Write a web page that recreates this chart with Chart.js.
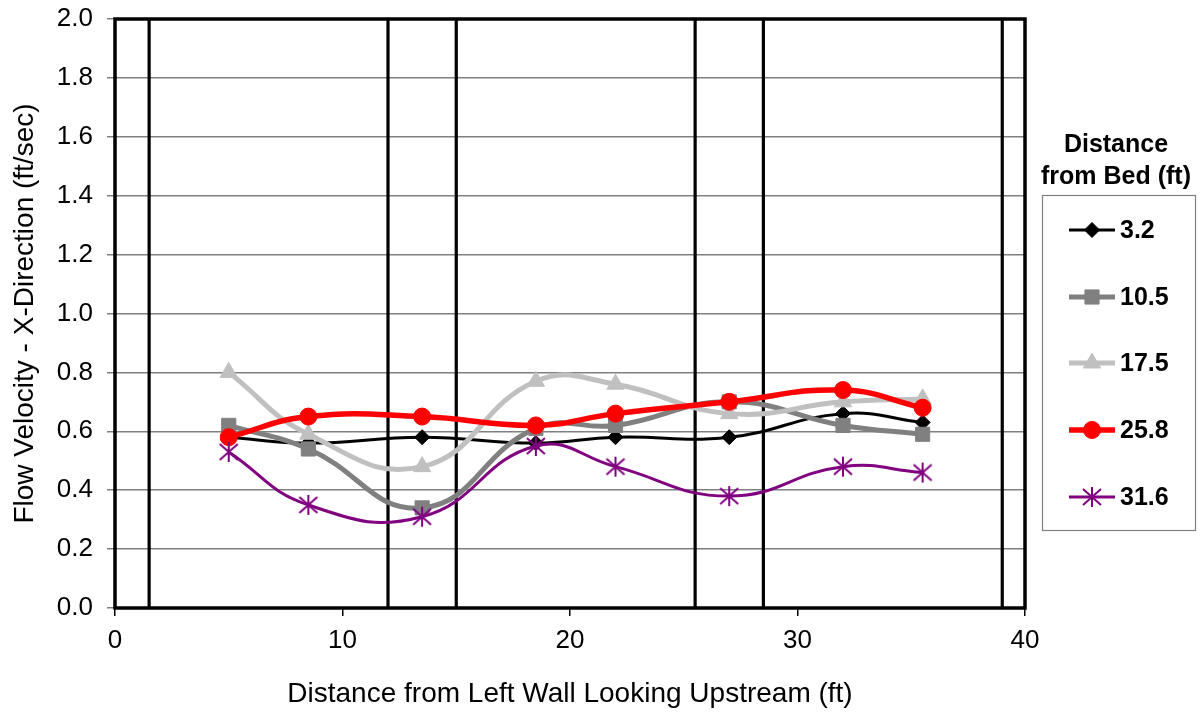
<!DOCTYPE html>
<html>
<head>
<meta charset="utf-8">
<script src="https://cdn.jsdelivr.net/npm/chart.js@4.4.0/dist/chart.umd.min.js"></script>
<style>
  html, body { margin: 0; padding: 0; background: #fff; }
  #wrap { width: 1202px; height: 717px; position: relative; }
</style>
</head>
<body>
<div id="wrap"><canvas id="c" width="1202" height="717"></canvas></div>
<script>
// ---- data ----
const xPositions = [5, 8.5, 13.5, 18.5, 22, 27, 32, 35.5];
const series32  = [0.58, 0.56, 0.58, 0.56, 0.58, 0.58, 0.66, 0.63];
const series105 = [0.62, 0.54, 0.34, 0.61, 0.62, 0.70, 0.62, 0.59];
const series175 = [0.80, 0.59, 0.48, 0.77, 0.76, 0.66, 0.70, 0.71];
const series258 = [0.58, 0.65, 0.65, 0.62, 0.66, 0.70, 0.74, 0.68];
const series316 = [0.53, 0.35, 0.31, 0.55, 0.48, 0.38, 0.48, 0.46];
const seriesNames = ['3.2', '10.5', '17.5', '25.8', '31.6'];
const wallX = [1.5, 12, 15, 25.5, 28.5, 39];
const wallY = [0, 2];
const xTitle = 'Distance from Left Wall Looking Upstream (ft)';
const yTitle = 'Flow Velocity - X-Direction (ft/sec)';
const legendTitle = ['Distance', 'from Bed (ft)'];

// ---- star marker (Excel-like asterisk) ----
function makeStar(color) {
  const c = document.createElement('canvas');
  c.width = 22; c.height = 22;
  const g = c.getContext('2d');
  g.strokeStyle = color; g.lineWidth = 2; g.lineCap = 'butt';
  g.beginPath();
  g.moveTo(11, 1); g.lineTo(11, 21);
  g.moveTo(2, 3); g.lineTo(20, 19);
  g.moveTo(2, 19); g.lineTo(20, 3);
  g.stroke();
  return c;
}
const starImg = makeStar('#800080');

const styles = [
  { color: '#000000', width: 3,   point: 'rectRot', radius: 7.5 },
  { color: '#808080', width: 5,   point: 'rect',    radius: 10 },
  { color: '#C0C0C0', width: 5,   point: 'triangle',radius: 10 },
  { color: '#FF0000', width: 5.5, point: 'circle',  radius: 8.5 },
  { color: '#800080', width: 3,   point: starImg,   radius: 10 }
];
const seriesValues = [series32, series105, series175, series258, series316];

const datasets = seriesValues.map((vals, i) => ({
  label: seriesNames[i],
  data: xPositions.map((x, j) => ({ x: x, y: vals[j] })),
  borderColor: styles[i].color,
  backgroundColor: styles[i].color,
  borderWidth: styles[i].width,
  pointStyle: styles[i].point,
  pointRadius: styles[i].radius,
  pointBorderWidth: 1,
  pointBackgroundColor: styles[i].color,
  pointBorderColor: styles[i].color,
  tension: 0.45,
  order: 5 - i
}));
wallX.forEach(wx => {
  datasets.push({
    label: 'wall',
    data: wallY.map(y => ({ x: wx, y: y })),
    borderColor: '#000000',
    borderWidth: 3.2,
    pointRadius: 0,
    tension: 0,
    order: 20
  });
});

const framePlugin = {
  id: 'frame',
  afterDraw(chart) {
    const a = chart.chartArea, ctx = chart.ctx;
    ctx.save();
    ctx.strokeStyle = '#000';
    ctx.lineWidth = 3.5;
    ctx.strokeRect(a.left, a.top, a.right - a.left, a.bottom - a.top);
    ctx.restore();
  }
};

function drawMarker(ctx, style, r, x, y, color) {
  ctx.save();
  ctx.fillStyle = color; ctx.strokeStyle = color; ctx.lineWidth = 1;
  if (style instanceof HTMLCanvasElement) {
    ctx.drawImage(style, x - style.width / 2, y - style.height / 2);
  } else {
    ctx.beginPath();
    if (style === 'circle') { ctx.arc(x, y, r, 0, Math.PI * 2); }
    else if (style === 'rect') { const s = r * Math.SQRT1_2; ctx.rect(x - s, y - s, 2 * s, 2 * s); }
    else if (style === 'rectRot') { ctx.moveTo(x - r, y); ctx.lineTo(x, y - r); ctx.lineTo(x + r, y); ctx.lineTo(x, y + r); ctx.closePath(); }
    else if (style === 'triangle') { ctx.moveTo(x, y - r); ctx.lineTo(x + 0.866 * r, y + 0.5 * r); ctx.lineTo(x - 0.866 * r, y + 0.5 * r); ctx.closePath(); }
    ctx.fill(); ctx.stroke();
  }
  ctx.restore();
}

const legendPlugin = {
  id: 'customLegend',
  afterDraw(chart) {
    const ctx = chart.ctx;
    ctx.save();
    ctx.fillStyle = '#000';
    ctx.font = 'bold 25px "Liberation Sans", Arial, sans-serif';
    ctx.textAlign = 'center';
    ctx.textBaseline = 'middle';
    ctx.fillText(legendTitle[0], 1116, 145);
    ctx.fillText(legendTitle[1], 1116, 177);
    ctx.strokeStyle = '#808080';
    ctx.lineWidth = 1.2;
    ctx.strokeRect(1042.5, 195.5, 153, 335);
    const ys = [230, 297, 363, 430, 497];
    seriesNames.forEach((name, i) => {
      const y = ys[i];
      ctx.strokeStyle = styles[i].color;
      ctx.lineWidth = styles[i].width;
      ctx.beginPath(); ctx.moveTo(1069, y); ctx.lineTo(1115, y); ctx.stroke();
      drawMarker(ctx, styles[i].point, styles[i].radius, 1092, y, styles[i].color);
      ctx.fillStyle = '#000';
      ctx.textAlign = 'left';
      ctx.fillText(name, 1120, y + 1);
    });
    ctx.restore();
  }
};

Chart.defaults.font.family = '"Liberation Sans", Arial, sans-serif';
Chart.defaults.color = '#000';

new Chart(document.getElementById('c'), {
  type: 'line',
  data: { datasets: datasets },
  options: {
    responsive: false,
    animation: false,
    layout: { padding: { top: 19, right: 177, bottom: 0, left: 0 } },
    plugins: { legend: { display: false }, tooltip: { enabled: false } },
    scales: {
      x: {
        type: 'linear', min: 0, max: 40,
        ticks: { stepSize: 10, font: { size: 26 }, padding: 9, color: '#000', maxRotation: 0 },
        grid: { drawOnChartArea: false, drawTicks: true, tickLength: 8, color: '#000', lineWidth: 1.5 },
        border: { display: false },
        title: { display: true, text: xTitle, font: { size: 28 }, padding: { top: 0, bottom: 6 }, color: '#000' },
        afterFit(s) { s.height = 109; s.paddingLeft = 0; s.paddingRight = 0; }
      },
      y: {
        type: 'linear', min: 0, max: 2,
        ticks: { stepSize: 0.2, font: { size: 26 }, padding: 14, color: '#000', callback: v => Number(v).toFixed(1) },
        grid: { drawTicks: true, tickLength: 8, color: '#808080', lineWidth: 1.5 },
        border: { display: false },
        title: { display: true, text: yTitle, font: { size: 28 }, padding: { top: 8, bottom: 0 }, color: '#000' },
        afterFit(s) { s.width = 115; s.paddingTop = 0; s.paddingBottom = 0; }
      }
    }
  },
  plugins: [framePlugin, legendPlugin]
});
</script>
</body>
</html>
